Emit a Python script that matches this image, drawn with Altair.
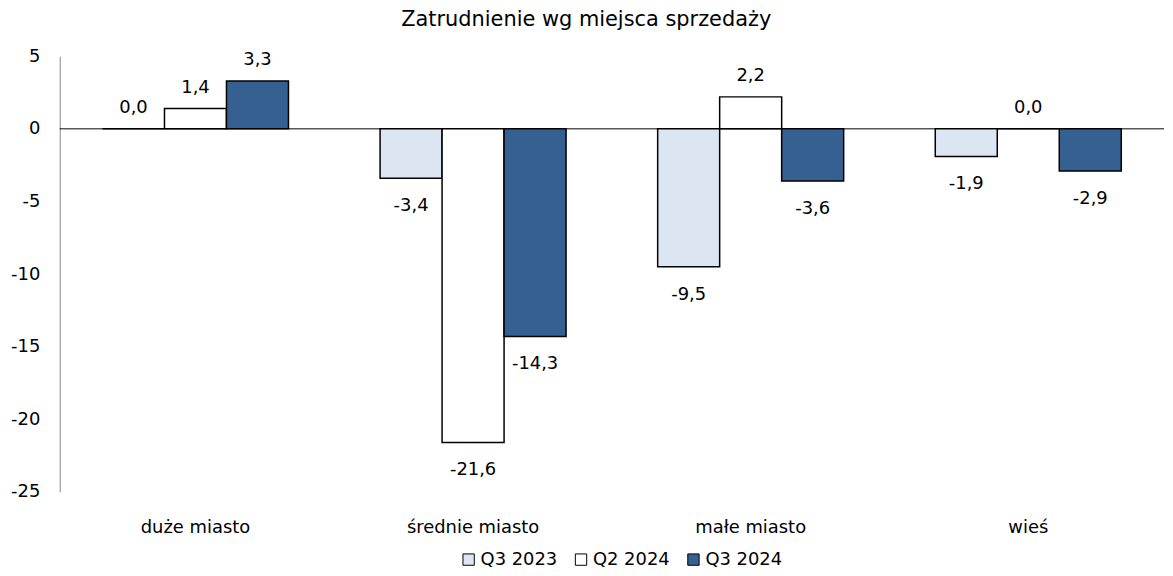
import altair as alt
import pandas as pd

categories = ["duże miasto", "średnie miasto", "małe miasto", "wieś"]
series = ["Q3 2023", "Q2 2024", "Q3 2024"]
q3_2023 = [0.0, -3.4, -9.5, -1.9]
q2_2024 = [1.4, -21.6, 2.2, 0.0]
q3_2024 = [3.3, -14.3, -3.6, -2.9]
colors = ["#dce6f2", "#ffffff", "#376092"]
y_ticks = [-25, -20, -15, -10, -5, 0, 5]

rows = []
for s, vals in zip(series, [q3_2023, q2_2024, q3_2024]):
    for c, v in zip(categories, vals):
        rows.append({"cat": c, "series": s, "value": v})
df = pd.DataFrame(rows)

FONT = "DejaVu Sans"

base = alt.Chart(df).transform_calculate(
    label="(datum.value < 0 ? '-' : '') + replace(format(abs(datum.value), '.1f'), '.', ',')"
)

x = alt.X("cat:N", sort=categories, title=None,
          scale=alt.Scale(paddingInner=0.33, paddingOuter=0.154),
          axis=alt.Axis(domain=False, ticks=False, labelPadding=27, labelFontSize=18,
                        labelColor="#000000", labelAngle=0, labelFont=FONT))
xo = alt.XOffset("series:N", sort=series, scale=alt.Scale(domain=series))
y = alt.Y("value:Q", title=None,
          scale=alt.Scale(domain=[-25, 5], nice=False, zero=False),
          axis=alt.Axis(values=y_ticks, labelExpr="toString(datum.value)", ticks=False,
                        grid=False, domainColor="#888888", domainWidth=1,
                        labelFontSize=18, labelColor="#000000", labelPadding=20,
                        labelFont=FONT, minExtent=52, maxExtent=52))

zero = alt.Chart(pd.DataFrame({"z": [0]})).mark_rule(color="#000000", strokeWidth=1).encode(
    y=alt.Y("z:Q", scale=alt.Scale(domain=[-25, 5], nice=False, zero=False))
)

bars = base.mark_bar(stroke="#000000", strokeWidth=1.5).encode(
    x=x, xOffset=xo, y=y,
    color=alt.Color("series:N", sort=series,
                    scale=alt.Scale(domain=series, range=colors),
                    legend=alt.Legend(title=None, orient="none", direction="horizontal",
                                      legendX=402, legendY=497,
                                      symbolType="square", symbolSize=130,
                                      symbolStrokeColor="#000000", symbolStrokeWidth=1,
                                      symbolOpacity=1,
                                      labelFontSize=18, labelFont=FONT, labelColor="#000000",
                                      labelOffset=3, columnPadding=14))
)

pos = base.transform_filter("datum.value >= 0").mark_text(
    baseline="alphabetic", dy=-16, fontSize=18, font=FONT, color="#000000"
).encode(x=x, xOffset=xo, y=y, text="label:N")

neg = base.transform_filter("datum.value < 0").mark_text(
    baseline="alphabetic", dy=33, fontSize=18, font=FONT, color="#000000"
).encode(x=x, xOffset=xo, y=y, text="label:N")

chart = alt.layer(zero, bars, pos, neg).properties(
    width=1110, height=438,
    title=alt.TitleParams("Zatrudnienie wg miejsca sprzedaży", fontSize=21, font=FONT,
                          fontWeight="normal", color="#000000", offset=17, anchor="middle",
                          frame="bounds"),
    padding={"left": 0, "top": 0, "right": 0, "bottom": 0},
).configure_view(stroke=None)

chart.save("out.html", embed_options={"renderer": "svg", "actions": False})
